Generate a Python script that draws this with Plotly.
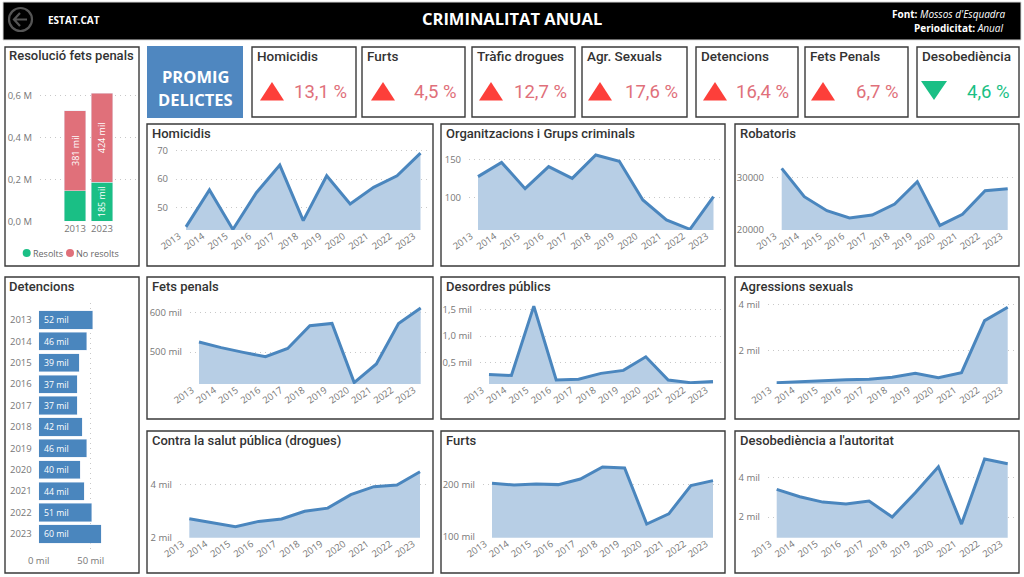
import plotly.graph_objects as go

# %% data
years = [2013, 2014, 2015, 2016, 2017, 2018, 2019, 2020, 2021, 2022, 2023]
year_labels = [str(y) for y in years]

homicidis = [43.1, 56.2, 42.2, 55.2, 65.0, 45.3, 61.2, 51.2, 57.1, 61.2, 69.2]
organitzacions = [127.6, 146, 112, 140.5, 125.4, 155.6, 147.4, 97.4, 71.6, 59.5, 101.7]
robatoris = [31720, 26300, 23630, 22230, 22800, 24900, 29170, 20830, 22930, 27450, 27830]
fets_penals = [525, 511, 499, 488, 509, 566, 572, 423, 470, 572, 611]
desordres = [0.28, 0.26, 1.56, 0.175, 0.19, 0.30, 0.356, 0.61, 0.175, 0.125, 0.15]
agressions = [0.594, 0.64, 0.667, 0.725, 0.74, 0.826, 1.0, 0.81, 1.03, 3.29, 3.87]
salut_publica = [2.70, 2.55, 2.40, 2.60, 2.69, 2.98, 3.10, 3.61, 3.91, 3.97, 4.47]
furts = [202, 198.7, 200.6, 199.4, 210, 233, 231, 124.7, 144, 197.5, 207]
desobediencia = [3.41, 3.03, 2.76, 2.66, 2.81, 2.0, 3.24, 4.56, 1.64, 4.95, 4.71]

detencions = [52, 46, 39, 37, 37, 42, 46, 40, 44, 51, 60]
detencions_labels = [f"\u00a0{v} mil" for v in detencions]

res_years = ["2013", "2023"]
resolts = [146, 185]
no_resolts = [381, 424]
resolts_labels = ["", "185 mil"]
no_resolts_labels = ["381 mil", "424 mil"]

kpi_names = ["Homicidis", "Furts", "Tràfic drogues", "Agr. Sexuals", "Detencions", "Fets Penals", "Desobediència"]
kpi_values = ["13,1 %", "4,5 %", "12,7 %", "17,6 %", "16,4 %", "6,7 %", "4,6 %"]
kpi_up = [True, True, True, True, True, True, False]

# %% page geometry, all in screenshot pixels
W, H = 1024, 577
BLUE = "#4a86be"
FILL = "#b7cee5"
RED = "#fd3f3a"
RED_TXT = "#e0707a"
GREEN = "#1abf85"
TITLE_FONT = "Roboto"
TICK_FONT = "Open Sans"
TICK_COL = "#777777"
GRID_COL = "#c8c8c8"
GRID_DASH = "1px,4px"


def px(x):
    return x / W


def py(y):
    return 1 - y / H


shapes = []
annotations = []


def rect(x0, y0, x1, y1, fill="white", line="#3a3a3a", width=1.4):
    shapes.append(dict(type="rect", xref="paper", yref="paper", x0=px(x0), x1=px(x1), y0=py(y0), y1=py(y1),
                       fillcolor=fill, line=dict(color=line, width=width), layer="below"))


def text(x, y, s, size, color="#333333", anchor="left", font=TITLE_FONT, weight=500):
    # annotations keep a small padding round the text, take it back out
    nudge = {"left": -2, "right": 2, "center": 0}[anchor]
    annotations.append(dict(xref="paper", yref="paper", x=px(x + nudge), y=py(y), text=s, showarrow=False,
                            xanchor=anchor, yanchor="middle", align=anchor,
                            font=dict(family=font, size=size, color=color, weight=weight)))


def poly(points, fill):
    path = "M " + " L ".join(f"{px(a):.5f},{py(b):.5f}" for a, b in points) + " Z"
    shapes.append(dict(type="path", xref="paper", yref="paper", path=path, fillcolor=fill,
                       line=dict(width=0), layer="above"))


# header
rect(3, 2, 1021, 40, fill="black", line="#d9d9d9", width=1)
shapes.append(dict(type="circle", xref="paper", yref="paper", x0=px(9), x1=px(32), y0=py(31), y1=py(8),
                   line=dict(color="#555555", width=2.2)))
shapes.append(dict(type="path", xref="paper", yref="paper",
                   path=f"M {px(27)},{py(19.5)} L {px(14)},{py(19.5)} M {px(20)},{py(13)} L {px(14)},{py(19.5)} L {px(20)},{py(26)}",
                   line=dict(color="#555555", width=2.2)))
text(48, 20, "<b>ESTAT.CAT</b>", 10, "white", font=TICK_FONT, weight=400)
text(512, 19, "<b>CRIMINALITAT ANUAL</b>", 16.5, "white", "center", font=TICK_FONT, weight=400)
text(1006, 14, "<b>Font:</b> <i>Mossos d'Esquadra</i>", 10, "white", "right", font=TICK_FONT, weight=400)
text(1004, 28, "<b>Periodicitat:</b> <i>Anual</i>", 10, "white", "right", font=TICK_FONT, weight=400)

# promig box
rect(147, 46, 243, 118, fill="#4f87c0", line="#4f87c0", width=0)
text(195, 76, "<b>PROMIG</b>", 16.5, "white", "center", font=TICK_FONT, weight=400)
text(195, 99, "<b>DELICTES</b>", 16.5, "white", "center", font=TICK_FONT, weight=400)

# kpi cards
kpi_boxes = [(252, 356), (362, 465), (472, 575), (582, 687), (696, 798), (805, 908), (917, 1019)]
kpi_tri = [260, 371, 479, 588, 703, 811, 921]
kpi_right = [347, 457, 567, 678, 789, 899, 1010]
for i, name in enumerate(kpi_names):
    x0, x1 = kpi_boxes[i]
    rect(x0, 47, x1, 117)
    text(x0 + 5, 56, name, 13.5)
    t = kpi_tri[i]
    if kpi_up[i]:
        poly([(t, 100.5), (t + 12, 82), (t + 24, 100.5)], RED)
    else:
        poly([(t, 81), (t + 26, 81), (t + 13, 100)], GREEN)
    text(kpi_right[i], 92, kpi_values[i], 18.5, RED_TXT if kpi_up[i] else GREEN, "right", weight=400)

# left panels
rect(5, 47, 139, 266)
text(9, 56, "Resolució fets penals", 13)
rect(5, 277, 139, 573)
text(9, 286, "Detencions", 13)

# legend of the stacked bars
for cx, col in [(26.7, GREEN), (70, RED_TXT)]:
    shapes.append(dict(type="circle", xref="paper", yref="paper", x0=px(cx - 4), x1=px(cx + 4),
                       y0=py(257), y1=py(249), fillcolor=col, line=dict(width=0)))
text(33, 253.5, "Resolts", 9, "#666666", font=TICK_FONT, weight=400)
text(76, 253.5, "No resolts", 9, "#666666", font=TICK_FONT, weight=400)

# %% area charts: title, data, panel box, plot box, x of first/last point, y range, ticks
areas = [
    ("Homicidis", homicidis, (147, 124, 433, 266), (176, 429, 145, 230), (186, 420.5), (42.0, 72.1),
     [50, 60, 70], ["50", "60", "70"]),
    ("Organitzacions i Grups criminals", organitzacions, (441, 124, 725, 266), (469, 721, 145, 230), (478, 713.5),
     (58.6, 168.5), [100, 150], ["100", "150"]),
    ("Robatoris", robatoris, (735, 124, 1019, 266), (772, 1016, 145, 230), (781.7, 1007.7), (19950, 36170),
     [20000, 30000], ["20000", "30000"]),
    ("Fets penals", fets_penals, (147, 277, 433, 419), (190, 429, 299, 384), (199, 420.7), (419.4, 633.5),
     [500, 600], ["500 mil", "600 mil"]),
    ("Desordres públics", desordres, (441, 277, 725, 419), (480, 721, 299, 384), (489, 713), (0.101, 1.693),
     [0.5, 1.0, 1.5], ["0,5 mil", "1,0 mil", "1,5 mil"]),
    ("Agressions sexuals", agressions, (735, 277, 1019, 419), (768, 1016, 299, 384), (776.7, 1007.7), (0.536, 4.23),
     [2, 4], ["2 mil", "4 mil"]),
    ("Contra la salut pública (drogues)", salut_publica, (147, 431, 433, 573), (180, 429, 453, 537.7), (189.3, 420),
     (1.985, 5.18), [2, 4], ["2 mil", "4 mil"]),
    ("Furts", furts, (441, 431, 725, 573), (483, 721, 453, 537.7), (492, 713), (98.7, 259.4),
     [100, 200], ["100 mil", "200 mil"]),
    ("Desobediència a l'autoritat", desobediencia, (735, 431, 1019, 573), (768, 1016, 453, 537.7), (776.7, 1007.7),
     (0.947, 5.26), [2, 4], ["2 mil", "4 mil"]),
]

fig = go.Figure()
layout = {}
axis_font = dict(family=TICK_FONT, size=9.5, color=TICK_COL)

for n, (title, vals, box, plot, xs, yr, yt, ytl) in enumerate(areas, start=1):
    rect(*box)
    text(box[0] + 5, box[1] + 9, title, 13)
    xa, ya = f"x{n}", f"y{n}"
    fig.add_trace(go.Scatter(x=years, y=vals, xaxis=xa, yaxis=ya, mode="none", fill="tozeroy", fillcolor=FILL))
    fig.add_trace(go.Scatter(x=years, y=vals, xaxis=xa, yaxis=ya, mode="lines", cliponaxis=False,
                             line=dict(color=BLUE, width=3)))
    step = (xs[1] - xs[0]) / 10
    layout[f"xaxis{n}"] = dict(domain=[px(plot[0]), px(plot[1])], anchor=ya,
                               range=[2013 - (xs[0] - plot[0]) / step, 2023 + (plot[1] - xs[1]) / step],
                               tickvals=years, ticktext=year_labels, tickangle=-35, tickfont=axis_font,
                               showgrid=False, zeroline=False, showline=False, ticks="", ticklabelshift=-7,
                               ticklabelstandoff=-2)
    layout[f"yaxis{n}"] = dict(domain=[py(plot[3]), py(plot[2])], anchor=xa, range=list(yr),
                               tickvals=yt, ticktext=ytl, tickfont=axis_font, showgrid=True, gridcolor=GRID_COL,
                               griddash=GRID_DASH, gridwidth=1, zeroline=False, showline=False, ticks="",
                               ticklabelstandoff=7)

# %% stacked bars
n = 10
fig.add_trace(go.Bar(x=res_years, y=resolts, name="Resolts", xaxis=f"x{n}", yaxis=f"y{n}", marker_color=GREEN,
                     width=0.8, text=resolts_labels, textposition="inside", textangle=-90,
                     insidetextanchor="middle", textfont=dict(family=TICK_FONT, size=9, color="white")))
fig.add_trace(go.Bar(x=res_years, y=no_resolts, name="No resolts", xaxis=f"x{n}", yaxis=f"y{n}", marker_color=RED_TXT,
                     width=0.8, text=no_resolts_labels, textposition="inside", textangle=-90,
                     insidetextanchor="middle", textfont=dict(family=TICK_FONT, size=9, color="white")))
layout[f"xaxis{n}"] = dict(domain=[px(40), px(137)], anchor=f"y{n}", type="category", range=[-1.3, 2.3],
                           tickfont=axis_font, showgrid=False, zeroline=False, ticks="", showline=False)
layout[f"yaxis{n}"] = dict(domain=[py(221.3), py(90)], anchor=f"x{n}", range=[0, 625],
                           tickvals=[0, 200, 400, 600], ticktext=["0,0 M", "0,2 M", "0,4 M", "0,6 M"],
                           tickfont=axis_font, showgrid=True, gridcolor=GRID_COL, griddash=GRID_DASH,
                           zeroline=False, ticks="", showline=False, ticklabelstandoff=7)

# %% detencions bars
n = 11
fig.add_trace(go.Bar(x=detencions, y=year_labels, orientation="h", xaxis=f"x{n}", yaxis=f"y{n}", marker_color=BLUE,
                     width=0.85, text=detencions_labels, textposition="inside", insidetextanchor="start",
                     textangle=0, textfont=dict(family=TICK_FONT, size=10, color="white")))
layout[f"xaxis{n}"] = dict(domain=[px(38.7), px(137)], anchor=f"y{n}", range=[0, 94.5], tickvals=[0, 50],
                           ticktext=["0 mil", "50 mil"], tickfont=axis_font, showgrid=True, gridcolor=GRID_COL,
                           griddash=GRID_DASH, zeroline=False, ticks="", showline=False)
layout[f"yaxis{n}"] = dict(domain=[py(553), py(303)], anchor=f"x{n}", type="category", range=[10.89, -0.79],
                           tickfont=axis_font, showgrid=False, zeroline=False, ticks="", showline=False,
                           ticklabelstandoff=6)

fig.update_layout(width=W, height=H, margin=dict(l=0, r=0, t=0, b=0, autoexpand=False), paper_bgcolor="white",
                  plot_bgcolor="rgba(0,0,0,0)", showlegend=False, barmode="stack", shapes=shapes,
                  annotations=annotations, **layout)

fig.write_html("out.html", config=dict(displayModeBar=False), post_script="document.body.style.margin='0';")
